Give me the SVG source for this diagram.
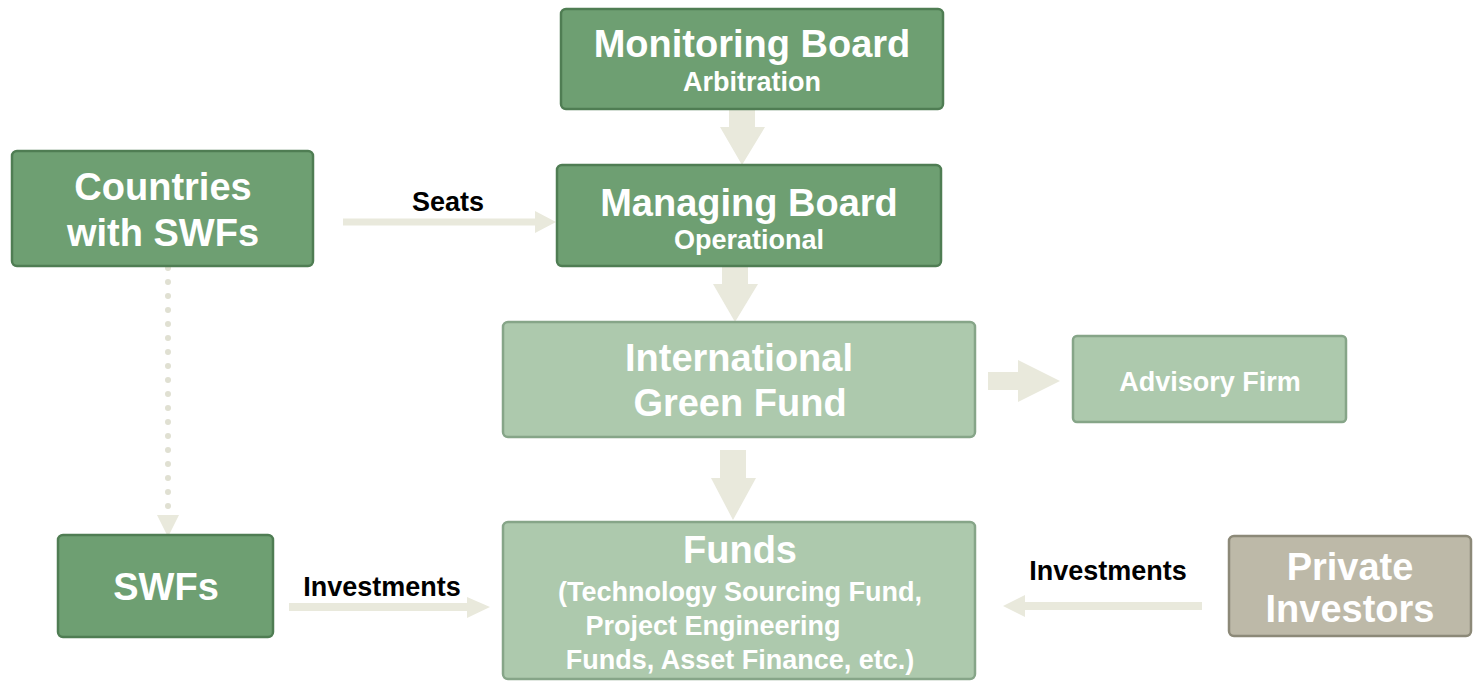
<svg xmlns="http://www.w3.org/2000/svg" width="1473" height="686" viewBox="0 0 1473 686">
<style>
.dk{fill:#6e9f72;stroke:#4f7d53;stroke-width:2.5}
.lt{fill:#adc9ad;stroke:#86a588;stroke-width:2.5}
.pv{fill:#bdb9a8;stroke:#8c8978;stroke-width:2.5}
.t{font-family:"Liberation Sans",Arial,sans-serif;font-weight:bold;fill:#fff;text-anchor:middle}
.big{font-size:38px}
.sub{font-size:27px}
.lbl{font-family:"Liberation Sans",Arial,sans-serif;font-weight:bold;fill:#000;font-size:27px;text-anchor:middle}
.arr{fill:#e9e9dc}
.ln{stroke:#e9e9dc;fill:none}
</style>
<g id="connectors">
<polygon class="arr" points="729,109 755,109 755,127 765,127 742,165 720,127 729,127"/>
<polygon class="arr" points="722,266 748,266 748,284 758,284 735,322 713,284 722,284"/>
<polygon class="arr" points="720,450 746,450 746,478 756,478 733,520 711,478 720,478"/>
<polygon class="arr" points="988,372 1018,372 1018,360 1060,381 1018,402 1018,390 988,390"/>
<line class="ln" x1="343" y1="222" x2="538" y2="222" stroke-width="7"/>
<polygon class="arr" points="535,211 556,222 535,233"/>
<line class="ln" x1="289" y1="607" x2="470" y2="607" stroke-width="8"/>
<polygon class="arr" points="467,597 490,607 467,618"/>
<line class="ln" x1="1202" y1="606" x2="1022" y2="606" stroke-width="8"/>
<polygon class="arr" points="1025,595 1003,606 1025,617"/>
<line x1="168" y1="268" x2="168" y2="510" stroke="#e0e0d2" stroke-width="6" stroke-dasharray="0 14" stroke-linecap="round" fill="none"/>
<polygon class="arr" points="157,515 179,515 168,537"/>
<text class="lbl" x="448" y="211">Seats</text>
<text class="lbl" x="382" y="596">Investments</text>
<text class="lbl" x="1108" y="580">Investments</text>
</g>
<g id="monitoring-board">
<rect class="dk" x="561" y="9" width="382" height="100" rx="5"/>
<text class="t big" x="752" y="57">Monitoring Board</text>
<text class="t sub" x="752" y="91">Arbitration</text>
</g>
<g id="managing-board">
<rect class="dk" x="557" y="165" width="384" height="101" rx="5"/>
<text class="t big" x="749" y="216">Managing Board</text>
<text class="t sub" x="749" y="249">Operational</text>
</g>
<g id="countries">
<rect class="dk" x="12" y="151" width="301" height="115" rx="5"/>
<text class="t big" x="163" y="200">Countries</text>
<text class="t big" x="163" y="246">with SWFs</text>
</g>
<g id="igf">
<rect class="lt" x="503" y="322" width="472" height="115" rx="5"/>
<text class="t big" x="739" y="371">International</text>
<text class="t big" x="740" y="416">Green Fund</text>
</g>
<g id="advisory">
<rect class="lt" x="1073" y="336" width="273" height="86" rx="4"/>
<text class="t sub" x="1210" y="391">Advisory Firm</text>
</g>
<g id="swfs">
<rect class="dk" x="58" y="535" width="215" height="102" rx="5"/>
<text class="t big" x="166" y="600">SWFs</text>
</g>
<g id="funds">
<rect class="lt" x="503" y="522" width="472" height="157" rx="5"/>
<text class="t big" x="740" y="563">Funds</text>
<text class="t sub" x="740" y="601">(Technology Sourcing Fund,</text>
<text class="t sub" x="713" y="635">Project Engineering</text>
<text class="t sub" x="740" y="669">Funds, Asset Finance, etc.)</text>
</g>
<g id="private">
<rect class="pv" x="1229" y="536" width="242" height="100" rx="5"/>
<text class="t big" x="1350" y="580">Private</text>
<text class="t big" x="1350" y="622">Investors</text>
</g>
</svg>
